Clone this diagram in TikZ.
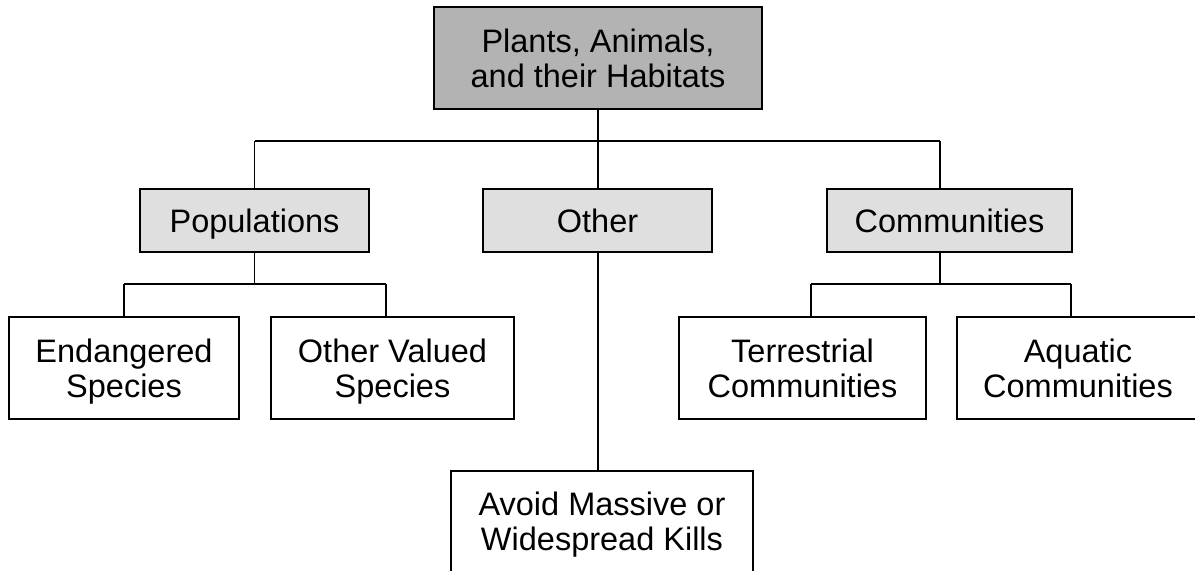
\documentclass[tikz,border=0pt]{standalone}
\usepackage{fontspec}
\setmainfont{Liberation Sans}
\begin{document}
\begin{tikzpicture}[x=1pt,y=-1pt,
  every node/.style={font=\fontsize{32.5}{35}\selectfont, align=center, inner sep=0pt, text depth=0pt, draw=black, line width=1.6pt},
  topbox/.style={fill=topgray},
  midbox/.style={fill=midgray, minimum height=63pt},
  leafbox/.style={fill=white, minimum height=102pt},
  label/.style={draw=none},
  link/.style={line width=1.6pt, draw=black}]
\definecolor{topgray}{RGB}{179,179,179}
\definecolor{midgray}{RGB}{223,223,223}
\useasboundingbox (0,0) rectangle (1195,571);
% root
\node[topbox, minimum width=328pt, minimum height=102pt] (root) at (598,58) {Plants, Animals,\\and their Habitats};
% second level
\node[midbox, minimum width=229pt] (pop) at (254.5,220.5) {Populations};
\node[midbox, minimum width=229pt] (oth) at (597.5,220.5) {Other};
\node[midbox, minimum width=245pt] (com) at (949.5,220.5) {Communities};
% leaves
\node[leafbox, minimum width=230pt] (end) at (124,368) {Endangered\\Species};
\node[leafbox, minimum width=243pt] (ova) at (392.5,368) {Other Valued\\Species};
\node[leafbox, minimum width=247pt] (ter) at (802.5,368) {Terrestrial\\Communities};
% boxes running past the page edge: open outlines, text set apart
\coordinate (aqu) at (957,317);
\coordinate (aqu se) at (1195,419);
\draw[link] (aqu -| aqu se) -- (aqu) -- (aqu |- aqu se) -- (aqu se);
\node[label] (aqutext) at (1078,368) {Aquatic\\Communities};
\coordinate (avo) at (451,471);
\coordinate (avo ne) at (753,471);
\draw[link] (avo |- 0,571) -- (avo) -- (avo ne) -- (avo ne |- 0,571);
\node[label] (avotext) at (602,521.5) {Avoid Massive or\\Widespread Kills};
% junction points
\coordinate (j0) at (598,141);
\coordinate (jl) at (254.5,141);
\coordinate (jr) at (940,141);
\coordinate (p0) at (254.5,284);
\coordinate (pl) at (124,284);
\coordinate (pr) at (386,284);
\coordinate (c0) at (940,284);
\coordinate (cl) at (811,284);
\coordinate (cr) at (1071,284);
% connectors
\draw[link] (root.south) -- (j0);
\draw[link] (jl) -- (jr);
\draw[link] (j0) -- (j0 |- oth.north);
\draw[link] (jl) -- (pop.north);
\draw[link] (jr) -- (jr |- com.north);
\draw[link] (pop.south) -- (p0);
\draw[link] (pl) -- (pr);
\draw[link] (pl) -- (pl |- end.north);
\draw[link] (pr) -- (pr |- ova.north);
\draw[link] (c0 |- com.south) -- (c0);
\draw[link] (cl) -- (cr);
\draw[link] (cl) -- (cl |- ter.north);
\draw[link] (cr) -- (cr |- aqu);
\draw[link] (j0 |- oth.south) -- (j0 |- avo);
\end{tikzpicture}
\end{document}
